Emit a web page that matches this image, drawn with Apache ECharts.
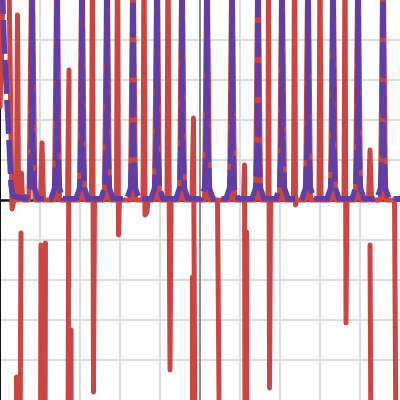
<!DOCTYPE html>
<html>
<head>
<meta charset="utf-8">
<script src="https://cdn.jsdelivr.net/npm/echarts@6/dist/echarts.min.js"></script>
<style>html,body{margin:0;padding:0;background:#fff}#c{width:400px;height:400px}</style>
</head>
<body>
<div id="c"></div>
<script>
// Red series (solid), null = gap in the line
const redX = [
  -5.000,-4.950,-4.913,-4.788,-4.700,-4.650,-4.588,-4.563,-4.538,-4.488,-4.463,-4.438,-4.275,-4.200,-4.125,-3.988,-3.950,-3.913,-3.638,-3.575,-3.513,-3.313,-3.275,-3.300,null,
  -4.475,-4.500,null,
  -4.588,-4.588,null,
  -3.975,-3.988,null,
  -3.863,-3.875,null,
  -3.225,-3.225,null,
  -3.200,-3.013,-2.950,-2.888,-2.713,-2.688,-2.663,-2.638,-2.388,-2.325,-2.263,-2.088,-2.063,-2.038,-2.013,-1.738,-1.675,-1.613,-1.425,-1.400,-1.375,-1.325,-1.300,-1.138,-1.075,-1.013,-0.825,-0.800,-0.750,-0.725,-0.513,-0.450,-0.388,-0.200,-0.163,-0.125,null,
  -0.188,-0.188,null,
  -0.088,0.113,0.175,0.238,0.438,0.488,null,
  0.525,0.738,0.800,0.863,1.088,1.113,1.125,null,
  1.163,1.163,null,
  1.188,1.388,1.450,1.513,1.700,1.713,1.738,1.763,1.988,2.050,2.113,2.338,2.363,2.388,2.413,2.638,2.700,2.763,2.975,3.000,3.025,3.263,3.325,3.388,3.600,3.625,3.650,3.675,3.888,3.950,4.013,4.213,4.250,4.288,4.513,4.575,4.638,4.863,4.900,null,
  4.250,4.275
];
const redY = [
  2.325,3.925,6.5,6.5,-0.225,0,0,4.625,0,0,0.675,0,0,6.5,0,0,1.425,0,0,6.5,0,0,3.25,-6.5,null,
  -0.825,-6.5,null,
  -4.425,-6.5,null,
  -1.125,-6.5,null,
  -1.075,-6.5,null,
  -3.25,-6.5,null,
  0,0,6.5,0,0,6.5,-4.8,0,0,6.5,0,0,6.5,-0.875,0,0,6.5,0,0,6.5,-0.375,-0.3,0,0,6.5,0,0,6.5,-4.25,0,0,6.5,0,0,2.05,-6.5,null,
  -1.925,-6.5,null,
  0,0,6.5,0,0,-6.5,null,
  0,0,6.5,0,0,0.875,-6.5,null,
  -0.8,-6.5,null,
  0,0,6.5,0,0,6.5,-4.7,0,0,6.5,0,0,6.5,-0.125,0,0,6.5,0,0,6.5,0,0,6.5,0,0,6.5,-3.075,0,0,6.5,0,0,1.25,0,0,6.5,0,0,-6.5,null,
  -1.125,-6.5
];
// Purple series (dashed)
const purpleX = [
  -4.975,-4.900,-4.800,-4.725,-4.675,
  -4.350,-4.260,-4.213,-4.200,-4.188,-4.140,-4.050,
  -3.725,-3.635,-3.588,-3.575,-3.563,-3.515,-3.425,
  -3.100,-3.010,-2.963,-2.950,-2.938,-2.890,-2.800,
  -2.475,-2.385,-2.338,-2.325,-2.313,-2.265,-2.175,
  -1.825,-1.735,-1.688,-1.675,-1.663,-1.615,-1.525,
  -1.225,-1.135,-1.088,-1.075,-1.063,-1.015,-0.925,
  -0.600,-0.510,-0.463,-0.450,-0.438,-0.390,-0.300,
  0.025,0.115,0.163,0.175,0.188,0.235,0.325,
  0.650,0.740,0.788,0.800,0.813,0.860,0.950,
  1.300,1.390,1.438,1.450,1.463,1.510,1.600,
  1.900,1.990,2.038,2.050,2.063,2.110,2.200,
  2.550,2.640,2.688,2.700,2.713,2.760,2.850,
  3.175,3.265,3.313,3.325,3.338,3.385,3.475,
  3.800,3.890,3.938,3.950,3.963,4.010,4.100,
  4.425,4.515,4.563,4.575,4.588,4.635,4.725,
  5.000
];
const purpleY = [
  6.5,4.0,2.0,0.375,0.1,
  0.03,0.3,1.6,6.5,1.6,0.3,0.03,
  0.03,0.3,1.6,6.5,1.6,0.3,0.03,
  0.03,0.3,1.6,6.5,1.6,0.3,0.03,
  0.03,0.3,1.6,6.5,1.6,0.3,0.03,
  0.03,0.3,1.6,6.5,1.6,0.3,0.03,
  0.03,0.3,1.6,6.5,1.6,0.3,0.03,
  0.03,0.3,1.6,6.5,1.6,0.3,0.03,
  0.03,0.3,1.6,6.5,1.6,0.3,0.03,
  0.03,0.3,1.6,6.5,1.6,0.3,0.03,
  0.03,0.3,1.6,6.5,1.6,0.3,0.03,
  0.03,0.3,1.6,6.5,1.6,0.3,0.03,
  0.03,0.3,1.6,6.5,1.6,0.3,0.03,
  0.03,0.3,1.6,6.5,1.6,0.3,0.03,
  0.03,0.3,1.6,6.5,1.6,0.3,0.03,
  0.03,0.3,1.6,6.5,1.6,0.3,0.03,
  0.03
];
const axisMin = -5, axisMax = 5, axisStep = 1;

function pairs(xs, ys) {
  return xs.map((x, i) => (x === null || ys[i] === null) ? ['-', '-'] : [x, ys[i]]);
}

const chart = echarts.init(document.getElementById('c'), null, {renderer: 'canvas'});
const split = {show: true, showMinLine: false, showMaxLine: false, lineStyle: {color: '#dcdcdc', width: 2}};
chart.setOption({
  animation: false,
  backgroundColor: '#ffffff',
  grid: {left: 0, right: 0, top: 0, bottom: 0, containLabel: false},
  xAxis: {
    type: 'value', min: axisMin, max: axisMax, interval: axisStep,
    axisLine: {show: false},
    axisTick: {show: false}, axisLabel: {show: false}, splitLine: split
  },
  yAxis: {
    type: 'value', min: axisMin, max: axisMax, interval: axisStep,
    axisLine: {show: true, onZero: false, lineStyle: {color: '#111', width: 2}},
    axisTick: {show: false}, axisLabel: {show: false}, splitLine: split
  },
  series: [
    {
      type: 'line', data: [], z: 1, silent: true,
      markLine: {z: 1, silent: true, symbol: 'none', label: {show: false}, animation: false,
        lineStyle: {color: '#8c8c8c', width: 2, type: 'solid'},
        data: [{xAxis: 0}]}
    },
    {
      type: 'line', data: [], z: 1.5, silent: true,
      markLine: {z: 1.5, silent: true, symbol: 'none', label: {show: false}, animation: false,
        lineStyle: {color: '#111111', width: 2.5, type: 'solid'},
        data: [{yAxis: 0}]}
    },
    {
      type: 'line', data: pairs(redX, redY), showSymbol: false, connectNulls: false, z: 2,
      lineStyle: {color: '#cb4542', width: 5, cap: 'round', join: 'round'}
    },
    {
      type: 'line', data: pairs(purpleX, purpleY), showSymbol: false, z: 3,
      lineStyle: {color: '#5f3fa6', width: 5.5, type: [34, 6], cap: 'butt', join: 'round'}
    }
  ]
});
</script>
</body>
</html>
